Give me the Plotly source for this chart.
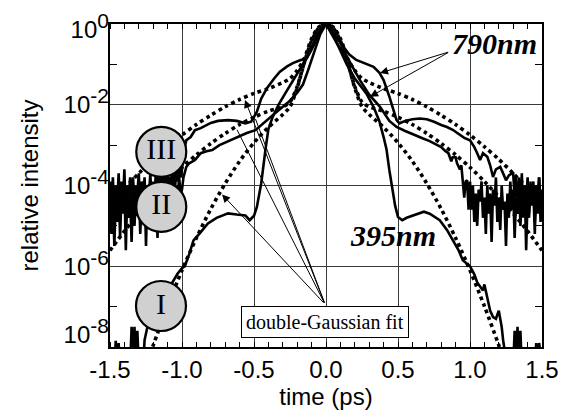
import plotly.graph_objects as go

# ---------------- data (log10 of relative intensity) ----------------
# curve I (395nm)
t_I = [-1.50, -1.47, -1.46, -1.45, -1.44, -1.43, -1.36, -1.35, -1.34, -1.33, -1.32, -1.31, -1.30, -1.27,
       -1.26, -1.24, -1.20, -1.15, -1.10, -1.05, -1.03, -1.00, -0.98, -0.95, -0.92, -0.88, -0.82, -0.76,
       -0.68, -0.62, -0.56, -0.53, -0.50, -0.48, -0.46, -0.45, -0.42, -0.40, -0.37, -0.33, -0.28, -0.22,
       -0.16, -0.11, -0.06, -0.03, 0.00,
       0.03, 0.06, 0.10, 0.144, 0.20, 0.28, 0.33, 0.37, 0.40, 0.42, 0.44, 0.46, 0.48, 0.50, 0.53, 0.56,
       0.60, 0.64, 0.68, 0.72, 0.76, 0.79, 0.84, 0.88, 0.92, 0.95, 0.98, 1.00, 1.03, 1.05, 1.07, 1.09,
       1.10, 1.12, 1.14, 1.16, 1.18, 1.20, 1.22, 1.23, 1.25, 1.28, 1.30, 1.31, 1.32, 1.33, 1.34, 1.35,
       1.36, 1.45, 1.46, 1.47, 1.48, 1.50]
logI_I = [-8.5, -8.5, -7.85, -8.5, -7.9, -8.5, -8.5, -7.5, -8.5, -7.5, -8.5, -7.6, -8.5, -8.5,
          -7.83, -7.5, -7.2, -6.9, -6.6, -6.3, -6.18, -6.05, -6.0, -5.7, -5.36, -5.2, -4.94, -4.8,
          -4.69, -4.72, -4.74, -4.86, -4.75, -4.53, -4.1, -3.95, -3.1, -2.6, -2.3, -2.0, -1.7, -1.35,
          -1.0, -0.7, -0.35, -0.12, 0.0,
          -0.12, -0.35, -0.65, -1.0, -1.35, -1.72, -2.05, -2.4, -2.8, -3.1, -3.62, -4.1, -4.5, -4.78, -4.86, -4.8,
          -4.75, -4.7, -4.65, -4.7, -4.78, -4.86, -5.1, -5.36, -5.6, -5.85, -5.95, -6.0, -6.2, -6.4, -6.5, -6.6,
          -6.45, -6.8, -7.1, -7.26, -7.3, -7.1, -7.5, -7.83, -8.3, -8.5, -8.5, -7.6, -8.5, -7.5, -8.5, -7.6,
          -8.5, -8.5, -7.9, -8.5, -7.9, -8.5]

# curve II
t_noise_left = [round(-1.50 + 0.01 * i, 2) for i in range(50)]
t_noise_right = [round(1.00 + 0.01 * i, 2) for i in range(51)]
t_noise_right3 = [round(1.30 + 0.01 * i, 2) for i in range(21)]

noiseL_II = [-4.3, -5.2, -4.1, -5.5, -4.4, -4.9, -4.0, -5.3, -4.2, -4.7, -4.0, -5.6, -4.1, -4.8, -4.3, -5.4,
             -4.0, -5.0, -4.2, -4.6, -4.0, -5.2, -4.4, -4.9, -4.0, -5.5, -4.2, -4.7, -3.9, -5.1, -4.3, -4.8,
             -4.0, -5.3, -4.1, -4.6, -3.9, -5.0, -4.2, -4.5, -3.9, -4.8, -4.1, -4.4, -3.8, -4.6, -4.0, -4.3,
             -3.8, -4.2]
core_t_II = [-1.00, -0.99, -0.97, -0.95, -0.91, -0.87, -0.83, -0.79, -0.74, -0.68, -0.61, -0.55, -0.49,
             -0.45, -0.40, -0.35, -0.30, -0.25, -0.20, -0.16, -0.12, -0.08, -0.04, 0.00,
             0.04, 0.08, 0.12, 0.144, 0.19, 0.236, 0.30, 0.375, 0.44, 0.49, 0.55, 0.61, 0.67, 0.72, 0.76,
             0.80, 0.83, 0.85, 0.87, 0.88, 0.90, 0.91, 0.93, 0.94, 0.96, 0.97, 0.98, 0.99]
core_II = [-4.1, -3.8, -3.54, -3.45, -3.37, -3.2, -3.15, -3.12, -3.0, -2.9, -2.79, -2.7, -2.63,
           -2.5, -2.35, -2.2, -2.05, -1.9, -1.7, -1.5, -1.1, -0.65, -0.25, 0.0,
           -0.25, -0.5, -0.7, -0.8, -1.1, -1.39, -1.75, -2.05, -2.4, -2.55, -2.65, -2.75, -2.83, -2.9, -2.98,
           -3.05, -3.15, -3.2, -3.4, -3.3, -3.3, -3.45, -3.6, -3.5, -4.3, -3.9, -3.87, -4.6]
noiseR_II = [-3.9, -4.6, -4.0, -4.9, -4.2, -5.0, -4.1, -4.4, -3.9, -4.8, -4.3, -5.2, -4.0, -4.7, -4.2, -5.4,
             -4.1, -4.5, -3.8, -4.9, -4.3, -5.1, -4.0, -4.6, -4.4, -5.5, -4.2, -4.8, -3.9, -4.6, -4.1, -5.3,
             -4.3, -4.7, -3.8, -5.0, -4.2, -4.6, -4.0, -5.6, -4.3, -4.8, -3.9, -4.5, -4.1, -5.2, -4.0, -4.7,
             -3.8, -4.9, -4.2]

# curve III
noiseL_III = [-3.9, -4.6, -3.8, -4.8, -4.0, -4.5, -3.7, -4.7, -3.9, -4.4, -3.6, -4.9, -4.0, -4.3, -3.8, -4.7,
              -3.8, -4.5, -4.0, -4.2, -3.7, -4.6, -3.9, -4.4, -3.8, -4.8, -4.0, -4.3, -3.7, -4.5, -3.9, -4.2,
              -3.6, -4.4, -3.8, -4.1, -3.5, -4.3, -3.7, -4.0, -3.6, -4.2, -3.8, -4.0, -3.5, -4.1, -3.7, -3.9,
              -3.6, -3.8]
core_t_III = [-1.00, -0.99, -0.97, -0.94, -0.91, -0.87, -0.80, -0.75, -0.68, -0.62, -0.56, -0.52, -0.50,
              -0.48, -0.45, -0.41, -0.36, -0.32, -0.27, -0.23, -0.18, -0.134, -0.10, -0.065, -0.03, 0.00,
              0.03, 0.065, 0.12, 0.16, 0.21, 0.27, 0.33, 0.37, 0.40, 0.44, 0.47, 0.49, 0.51, 0.55, 0.60,
              0.65, 0.70, 0.75, 0.80, 0.84, 0.88, 0.92, 0.96, 1.00, 1.03, 1.05, 1.07, 1.09, 1.12, 1.14,
              1.16, 1.18, 1.21, 1.23, 1.25, 1.27, 1.29]
core_III = [-3.6, -3.2, -2.88, -2.8, -2.63, -2.58, -2.45, -2.4, -2.38, -2.4, -2.46, -2.42, -2.3,
            -2.17, -1.85, -1.59, -1.35, -1.18, -1.05, -0.97, -0.9, -0.85, -0.6, -0.3, -0.1, 0.0,
            -0.1, -0.3, -0.56, -0.75, -0.89, -0.97, -1.06, -1.2, -1.39, -1.8, -2.15, -2.38, -2.46, -2.4, -2.36,
            -2.34, -2.36, -2.42, -2.5, -2.55, -2.62, -2.72, -2.82, -2.88, -3.05, -3.2, -3.37, -3.2, -3.29, -3.5,
            -3.79, -3.6, -3.54, -3.7, -3.87, -3.75, -3.7]
noiseR_III = [-3.7, -4.3, -3.8, -4.6, -3.9, -4.4, -3.7, -4.8, -4.0, -4.5, -3.8, -4.7, -4.1, -4.4, -3.9, -4.9,
              -4.0, -4.3, -3.8, -4.6, -4.1]

# double-Gaussian fits
t_fit = [-1.5, -1.4, -1.3, -1.2, -1.1, -1.0, -0.9, -0.8, -0.7, -0.6, -0.5, -0.4, -0.3, -0.25, -0.2, -0.15,
         -0.1, -0.05, 0.0, 0.05, 0.1, 0.15, 0.2, 0.25, 0.3, 0.4, 0.5, 0.6, 0.7, 0.8, 0.9, 1.0, 1.1, 1.2,
         1.3, 1.4, 1.5]
fit_I = [-11.4, -10.15, -9.01, -7.96, -6.99, -6.10, -5.30, -4.58, -3.95, -3.40, -2.94, -2.56, -2.24, -2.05,
         -1.58, -0.95, -0.42, -0.10, 0.0, -0.10, -0.42, -0.95, -1.58, -2.05, -2.24, -2.56, -2.94, -3.40,
         -3.95, -4.58, -5.30, -6.10, -6.99, -7.96, -9.01, -10.15, -11.4]
fit_II = [-5.61, -5.13, -4.69, -4.28, -3.90, -3.55, -3.24, -2.96, -2.71, -2.49, -2.31, -2.16, -2.05, -1.93,
          -1.55, -0.94, -0.43, -0.10, 0.0, -0.10, -0.43, -0.94, -1.55, -1.93, -2.05, -2.16, -2.31, -2.49,
          -2.71, -2.96, -3.24, -3.55, -3.90, -4.28, -4.69, -5.13, -5.61]
fit_III = [-4.46, -4.07, -3.70, -3.35, -3.04, -2.75, -2.49, -2.26, -2.05, -1.87, -1.72, -1.60, -1.45, -1.35,
           -1.15, -0.85, -0.36, -0.08, 0.0, -0.08, -0.36, -0.85, -1.15, -1.35, -1.45, -1.60, -1.72, -1.87,
           -2.05, -2.26, -2.49, -2.75, -3.04, -3.35, -3.70, -4.07, -4.46]

# circle labels: text, time position, log10 position
circle_text = ["III", "II", "I"]
circle_t = [-1.144, -1.144, -1.146]
circle_log = [-3.166, -4.53, -6.985]

x_ticks = [-1.5, -1.0, -0.5, 0.0, 0.5, 1.0, 1.5]
x_ticktext = ["-1.5", "-1.0", "-0.5", "0.0", "0.5", "1.0", "1.5"]
y_exps = [-8, -6, -4, -2, 0]
y_minor_exps = [-7, -5, -3, -1]
# where the tick labels sit (the end labels are pulled inside the frame, as in the original)
y_label_pos = [-7.7, -6, -4, -2, -0.15]

# ---------------- assemble ----------------
t_II = t_noise_left + core_t_II + t_noise_right
log_II = noiseL_II + core_II + noiseR_II
t_III = t_noise_left + core_t_III + t_noise_right3
log_III = noiseL_III + core_III + noiseR_III


def lin(v):
    return [10 ** e for e in v]


SERIF = "Liberation Serif, Times New Roman, serif"
SANS = "Liberation Sans, Arial, Helvetica, sans-serif"

fig = go.Figure()
for tt, ll in [(t_III, log_III), (t_II, log_II), (t_I, logI_I)]:
    fig.add_trace(go.Scatter(x=tt, y=lin(ll), mode="lines",
                             line=dict(color="black", width=2.6), hoverinfo="skip"))
for ff in [fit_I, fit_II, fit_III]:
    fig.add_trace(go.Scatter(x=t_fit, y=lin(ff), mode="lines",
                             line=dict(color="black", width=3.6, dash="dot", shape="spline", smoothing=0.8),
                             hoverinfo="skip"))

fig.add_trace(go.Scatter(
    x=circle_t, y=lin(circle_log), mode="markers+text", text=circle_text,
    textposition="middle center",
    textfont=dict(family=SERIF, size=30, color="black"),
    marker=dict(size=50, color="#d0d0d0", line=dict(color="black", width=2.2)),
    hoverinfo="skip", cliponaxis=False))

# empty trace so the label axis is drawn
fig.add_trace(go.Scatter(x=[None], y=[None], yaxis="y2", mode="lines", hoverinfo="skip"))

# text labels
fig.add_annotation(x=1.167, y=-0.483, text="<b><i>790nm</i></b>", showarrow=False,
                   font=dict(family=SERIF, size=30, color="black"))
fig.add_annotation(x=0.4656, y=-5.23, text="<b><i>395nm</i></b>", showarrow=False,
                   font=dict(family=SERIF, size=30, color="black"))
fig.add_annotation(x=-0.007, y=-7.39, text="double-Gaussian fit", showarrow=False,
                   font=dict(family=SERIF, size=20, color="black"),
                   bordercolor="black", borderwidth=1, borderpad=4, bgcolor="white")

# arrows for 790nm
for (tx, ty) in [(0.375, -1.215), (0.306, -1.80)]:
    fig.add_annotation(x=tx, y=ty, ax=0.8588, ay=-0.686, axref="x", ayref="y", text="",
                       showarrow=True, arrowhead=2, arrowsize=1.6, arrowwidth=1, arrowcolor="black")
# lines from fit box
for (tx, ty, head) in [(-0.5625, -1.88, 2), (-0.618, -2.62, 0), (-0.49, -2.35, 0), (-0.722, -4.22, 2)]:
    fig.add_annotation(x=tx, y=ty, ax=-0.007, ay=-6.94, axref="x", ayref="y", text="",
                       showarrow=True, arrowhead=head, arrowsize=1.6, arrowwidth=1, arrowcolor="black")

# the page body adds an 8px margin; the figure is sized so the plot lands where the reference has it
fig.update_layout(
    width=561, height=407,
    margin=dict(l=102, r=27, t=16, b=68, autoexpand=False),
    plot_bgcolor="white", paper_bgcolor="white",
    showlegend=False,
    font=dict(family=SANS, size=24, color="black"),
)
fig.update_xaxes(
    range=[-1.5, 1.5], tickmode="array", tickvals=x_ticks, ticktext=x_ticktext,
    showgrid=True, gridcolor="#3a3a3a", gridwidth=1, zeroline=False,
    showline=True, mirror="allticks", linecolor="black", linewidth=1.5,
    ticks="", tickfont=dict(size=24), automargin=False, ticklabeloverflow="allow",
    minor=dict(dtick=0.1, tick0=0, ticks="inside", ticklen=5, tickcolor="black", tickwidth=1, showgrid=False),
    title=dict(text="time (ps)", font=dict(size=24), standoff=0),
)
fig.update_layout(
    yaxis=dict(
        type="log", range=[-8, 0], tickmode="array",
        tickvals=[10 ** e for e in y_exps], showticklabels=False,
        showgrid=True, gridcolor="#3a3a3a", gridwidth=1, zeroline=False,
        showline=True, mirror="allticks", linecolor="black", linewidth=1.5,
        ticks="", automargin=False,
        minor=dict(tickmode="array", tickvals=[10 ** e for e in y_minor_exps], ticks="inside",
                   ticklen=7, tickcolor="black", tickwidth=1, showgrid=False),
    ),
    yaxis2=dict(
        type="log", range=[-8, 0], overlaying="y", side="left", tickmode="array",
        tickvals=[10 ** e for e in y_label_pos],
        ticktext=["10<sup><span style='font-size:21px'>%d</span></sup>" % e for e in y_exps],
        showgrid=False, zeroline=False, showline=False, ticks="",
        tickfont=dict(size=24), automargin=False, ticklabeloverflow="allow",
        title=dict(text="relative intensity", font=dict(size=24), standoff=18),
    ),
)

fig.write_html("out.html")
